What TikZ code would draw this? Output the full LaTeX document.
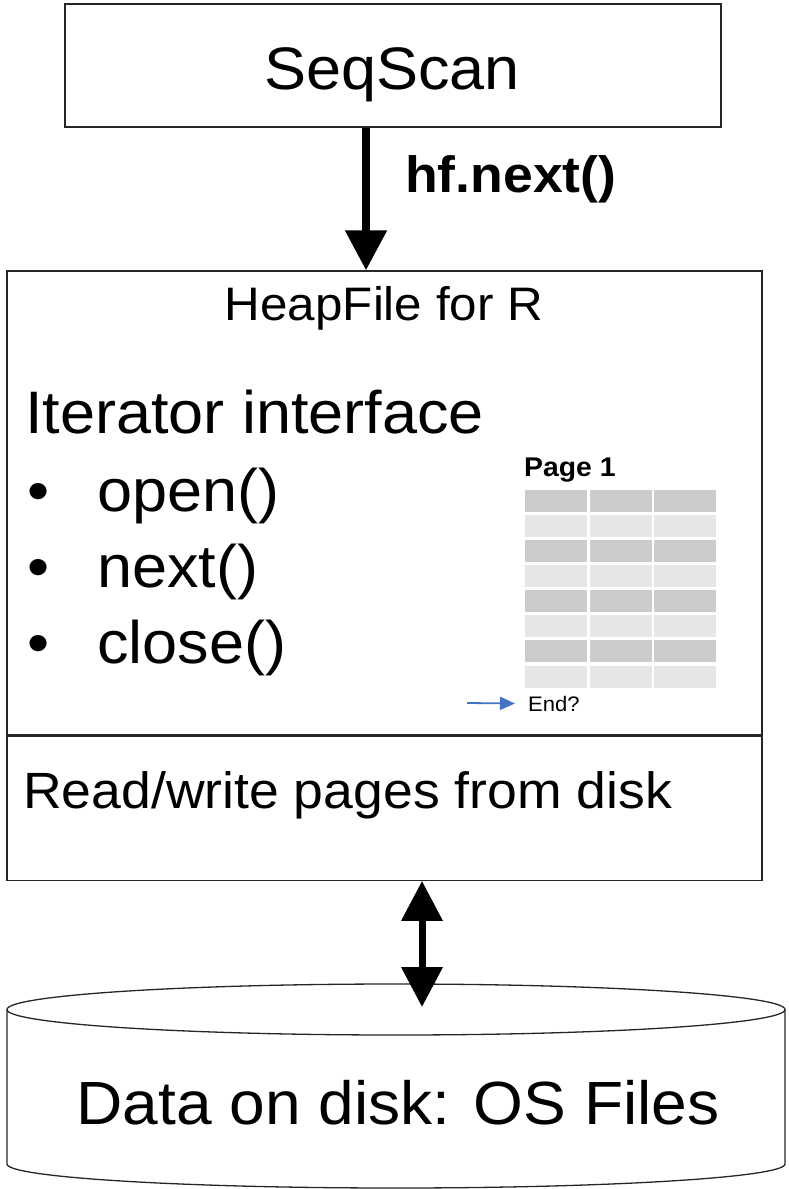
\documentclass[tikz,border=0pt]{standalone}
\usepackage{fontspec}
\setmainfont[FakeStretch=1.05]{Liberation Sans}
\usepackage{xcolor}
\usepackage{tikz}
\usetikzlibrary{positioning,arrows.meta}

\definecolor{celldark}{HTML}{CCCCCC}
\definecolor{celllight}{HTML}{E6E6E6}
\definecolor{cursorblue}{HTML}{4472C4}

\begin{document}
\begin{tikzpicture}[
  x=1pt, y=-1pt,
  >={Triangle[width=40pt,length=40pt]},
  box/.style={rectangle, draw=black!85, line width=1.3pt, inner sep=0},
  txt/.style={inner sep=0, anchor=base west},
  big/.style={font=\fontsize{60}{70}\selectfont},
  wire/.style={line width=8pt}
]
\useasboundingbox (0,0) rectangle (788,1189);

% Top operator
\node[box, minimum width=656pt, minimum height=123pt] (seqscan) at (393,65.5) {};
\node[txt, big, anchor=base] (seqname) at (392,89) {SeqScan};

% HeapFile, two parts
\node[box, minimum width=755pt, minimum height=464pt] (iterbox) at (384.5,503) {};
\node[box, minimum width=755pt, minimum height=144pt, below=0pt of iterbox] (rwbox) {};
\node[txt, anchor=base, font=\fontsize{47}{56}\selectfont] (heapname) at (384,320) {HeapFile for R};

% Iterator interface
\node[txt, big] (iface) at (25,433) {Iterator interface};
\node[txt, big] (bulA) at (27,511) {•};
\node[txt, big] (itemA) at (97,511) {open()};
\node[txt, big] (bulB) at (27,587) {•};
\node[txt, big] (itemB) at (97,587) {next()};
\node[txt, big] (bulC) at (27,663) {•};
\node[txt, big] (itemC) at (97,663) {close()};

% Page 1 with its slots
\node[txt, font=\fontsize{27}{32}\selectfont\bfseries] (pagename) at (524,476) {Page 1};
\foreach \r in {0,2,4,6}
  \foreach \c in {0,1,2}
    \fill[celldark] (525+64.6*\c,490+25.08*\r) rectangle ++(62,22);
\foreach \r in {1,3,5,7}
  \foreach \c in {0,1,2}
    \fill[celllight] (525+64.6*\c,490+25.08*\r) rectangle ++(62,22);

% Cursor
\node[txt, font=\fontsize{21}{25}\selectfont] (endq) at (528,711) {End?};
\coordinate (cursor) at (467,703);
\draw[-{Triangle[width=13pt,length=15pt]}, cursorblue, line width=1.8pt] (cursor) -- ([xshift=-13pt]endq.west);

% Page access
\node[txt, font=\fontsize{51}{60}\selectfont] (rwname) at (23,808) {Read/write pages from disk};

% Disk
\node[txt, anchor=base, font=\fontsize{61}{70}\selectfont] (disk) at (398,1124) {Data on disk: OS Files};
\draw[draw=black!85, line width=1.3pt] (396,1009.5) ellipse [x radius=389, y radius=25.5];
\draw[draw=black!85, line width=1.3pt] (7,1009.5) -- (7,1164) arc[start angle=180, end angle=0, x radius=389, y radius=24] -- (785,1009.5);
\coordinate (diskport) at (422,1007);

% Arrows
\draw[->, wire] ([xshift=-27pt]seqscan.south) -- ([xshift=-27pt]seqscan.south |- iterbox.north);
\node[txt, font=\fontsize{51}{60}\selectfont\bfseries] (call) at (405,192) {hf.next()};
\draw[<->, line width=7pt] (rwbox.south -| diskport) -- (diskport);

\end{tikzpicture}
\end{document}
